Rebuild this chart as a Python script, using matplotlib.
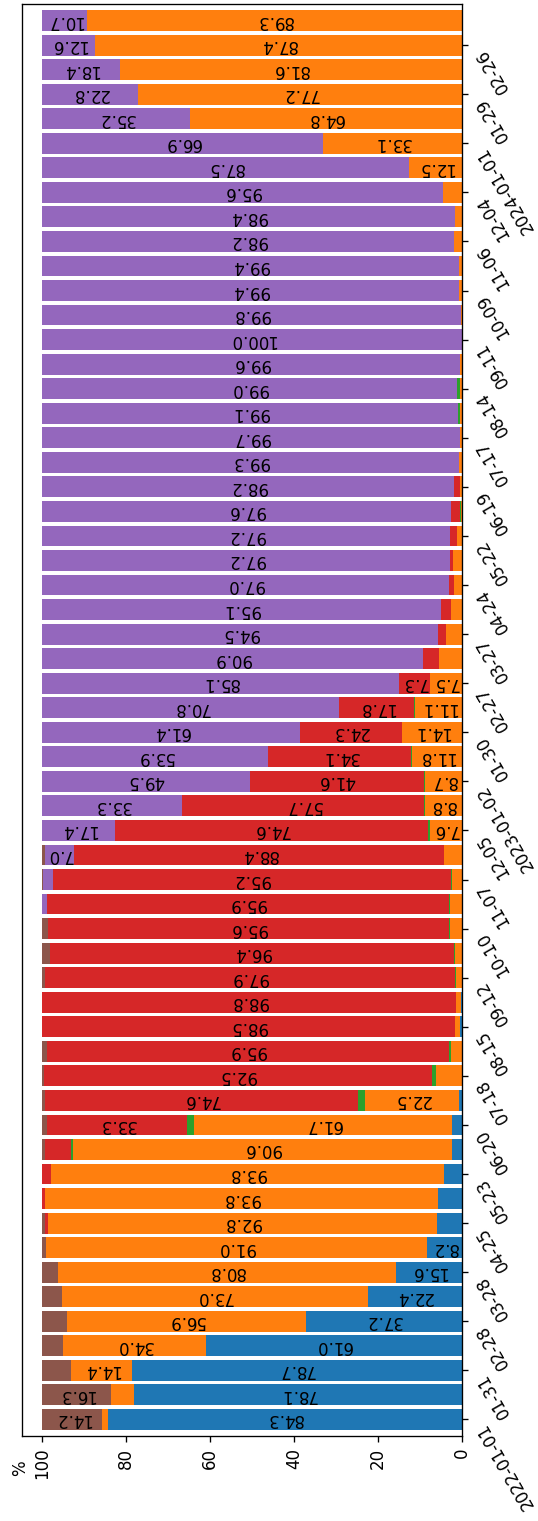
import numpy as np
import matplotlib
matplotlib.use("Agg")
import matplotlib.pyplot as plt

# one label for every second bar
tick_labels = ['2022-01-01', '01-31', '02-28', '03-28', '04-25', '05-23', '06-20',
               '07-18', '08-15', '09-12', '10-10', '11-07', '12-05', '2023-01-02',
               '01-30', '02-27', '03-27', '04-24', '05-22', '06-19', '07-17', '08-14',
               '09-11', '10-09', '11-06', '12-04', '2024-01-01', '01-29', '02-26']

# share (%) per bar, stacked in this order
blue = [84.3, 78.1, 78.7, 61.0, 37.2, 22.4, 15.6, 8.2, 5.9, 5.5,
        4.1, 2.2, 2.2, 0.6, 0, 0, 0.3, 0.2, 0, 0,
        0, 0, 0, 0, 0, 0, 0, 0, 0, 0,
        0, 0, 0, 0, 0, 0, 0, 0, 0, 0,
        0, 0, 0, 0, 0, 0, 0, 0, 0, 0,
        0, 0, 0, 0, 0, 0, 0, 0]
orange = [1.5, 5.6, 14.4, 34.0, 56.9, 73.0, 80.8, 91.0, 92.8, 93.8,
          93.8, 90.6, 61.7, 22.5, 6.1, 2.5, 1.2, 1.0, 1.3, 1.5,
          2.7, 2.8, 2.2, 4.1, 7.6, 8.8, 8.7, 11.8, 14.1, 11.1,
          7.5, 5.3, 3.7, 2.4, 1.8, 2.0, 1.0, 0.2, 0.4, 0.7,
          0.3, 0.4, 0.3, 0.4, 0, 0.2, 0.6, 0.6, 1.8, 1.6,
          4.4, 12.5, 33.1, 64.8, 77.2, 81.6, 87.4, 89.3]
green = [0, 0, 0, 0, 0, 0, 0, 0, 0, 0,
         0, 0.5, 1.7, 1.7, 1.0, 0.6, 0, 0, 0.2, 0.2,
         0.3, 0.2, 0.2, 0, 0.4, 0.2, 0.2, 0.2, 0.2, 0.3,
         0.1, 0, 0, 0.1, 0, 0, 0, 0.2, 0, 0,
         0, 0.5, 0.7, 0, 0, 0, 0, 0, 0, 0,
         0, 0, 0, 0, 0, 0, 0, 0]
red = [0, 0, 0, 0, 0, 0, 0, 0, 0.7, 0.7,
       2.1, 6.2, 33.3, 74.6, 92.5, 95.9, 98.5, 98.8, 97.9, 96.4,
       95.6, 95.9, 95.2, 88.4, 74.6, 57.7, 41.6, 34.1, 24.3, 17.8,
       7.3, 3.8, 1.8, 2.4, 1.2, 0.8, 1.8, 2.0, 1.4, 0,
       0, 0, 0, 0, 0, 0, 0, 0, 0, 0,
       0, 0, 0, 0, 0, 0, 0, 0]
purple = [0, 0, 0, 0, 0, 0, 0, 0, 0, 0,
          0, 0, 0, 0, 0, 0, 0, 0, 0, 0,
          0, 1.1, 2.2, 7.0, 17.4, 33.3, 49.5, 53.9, 61.4, 70.8,
          85.1, 90.9, 94.5, 95.1, 97.0, 97.2, 97.2, 97.6, 98.2, 99.3,
          99.7, 99.1, 99.0, 99.6, 100.0, 99.8, 99.4, 99.4, 98.2, 98.4,
          95.6, 87.5, 66.9, 35.2, 22.8, 18.4, 12.6, 10.7]
brown = [14.2, 16.3, 6.9, 5.0, 5.9, 4.6, 3.6, 0.8, 0.6, 0,
         0, 0.5, 1.1, 0.6, 0.4, 1.0, 0, 0, 0.6, 1.9,
         1.4, 0, 0.2, 0.5, 0, 0, 0, 0, 0, 0,
         0, 0, 0, 0, 0, 0, 0, 0, 0, 0,
         0, 0, 0, 0, 0, 0, 0, 0, 0, 0,
         0, 0, 0, 0, 0, 0, 0, 0]

series = [blue, orange, green, red, purple, brown]
colors = ['tab:blue', 'tab:orange', 'tab:green', 'tab:red', 'tab:purple', 'tab:brown']

W, H, DPI = 538, 1521, 120
fig = plt.figure(figsize=(W / DPI, H / DPI), dpi=DPI)
ax = fig.add_axes([21.5 / W, 85 / H, 440 / W, 1432 / H])

width = 0.85
pos = np.arange(len(blue))
left = np.zeros(len(blue))
for vals, c in zip(series, colors):
    vals = np.array(vals, dtype=float)
    ax.barh(pos, vals, height=width, left=left, color=c)
    for p, l, v in zip(pos, left, vals):
        if v >= 7:
            ax.text(l + v / 2, p, f'{v:.1f}', rotation=180,
                    ha='center', va='center')
    left += vals

ax.set_xlim(105, 0)
ax.set_ylim(-0.25 - width / 2, pos[-1] + 0.25 + width / 2)

ax.set_xticks(range(0, 101, 20))
ax.tick_params(axis='x', labelrotation=90)

ax.yaxis.tick_right()
ax.set_yticks(pos[::2])
ax.set_yticklabels(tick_labels, rotation=120, ha='left', va='top')

fig.text(20.5 / W, 1 - 1468 / H, '%', rotation=90, ha='center', va='center')

fig.savefig('out.png', dpi=DPI)
